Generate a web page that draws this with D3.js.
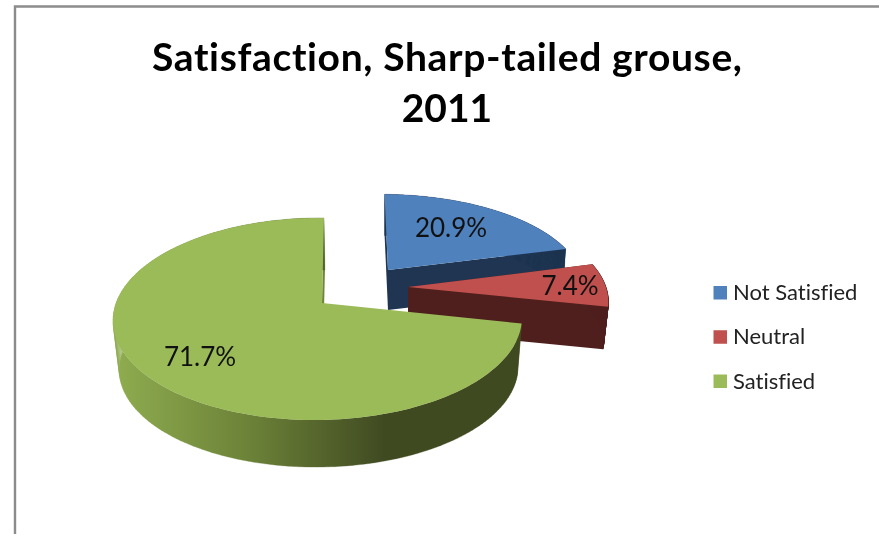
<!DOCTYPE html>
<html><head><meta charset="utf-8">
<script src="https://cdnjs.cloudflare.com/ajax/libs/d3/7.8.5/d3.min.js"></script>
<style>html,body{margin:0;background:#fff}svg{display:block}text{font-family:Lato,"Open Sans",sans-serif;font-variant-ligatures:none}</style>
</head><body><div id="c"></div>
<script>
const categories = ["Not Satisfied", "Neutral", "Satisfied"];
const values = [20.9, 7.4, 71.7];
const labelText = ["20.9%", "7.4%", "71.7%"];
const titleLines = ["Satisfaction, Sharp-tailed grouse,", "2011"];

const W = 879, H = 534;
const colors = ["#4F81BD", "#C0504D", "#9BBB59"];
const sideColors = ["#1F3552", "#4F1F1E", "#404A21"];
// exploded slice placement and per-slice scale
const layout = [
  {ax: 388, ay: 270, sx: .97, sy: .89, shear: 4, depth: 40, ds: .985, ddx: 0},
  {ax: 408, ay: 287, sx: 1, sy: .96, shear: 0, depth: 43, ds: .975, ddx: 0},
  {ax: 322, ay: 303, sx: 1, sy: 1, shear: -2.3, depth: 50, ds: .975, ddx: 1}
];
const A = 201.8, B = 98.5, K = .158, M = .02;

const svg = d3.select("#c").append("svg").attr("width", W).attr("height", H)
  .style("filter", "blur(0.45px)");
svg.append("rect").attr("width", W).attr("height", H).attr("fill", "#fff");
svg.append("path").attr("d", d3.line()([[15, H], [15, 6.5], [W, 6.5]]))
  .attr("fill", "none").attr("stroke", "#8c8c8c").attr("stroke-width", 2.4);

const grad = svg.append("defs").append("linearGradient").attr("id", "greenSide")
  .attr("gradientUnits", "userSpaceOnUse").attr("x1", 113).attr("x2", 385).attr("y1", 0).attr("y2", 0);
grad.append("stop").attr("offset", 0).attr("stop-color", "#8FAD50");
grad.append("stop").attr("offset", .5).attr("stop-color", "#6C8238");
grad.append("stop").attr("offset", 1).attr("stop-color", "#404A21");

const arcs = d3.pie().sort(null).value(d => d)(values);
function proj(i, t, bottom, r = 1) {
  const L = layout[i], X = r * Math.sin(t), Y = -r * Math.cos(t);
  const w = 1 - K * Y + M * X, s = bottom ? L.ds : 1;
  return [L.ax + (bottom ? L.ddx : 0) + s * (L.sx * A * X + L.shear * Y) / w,
          L.ay + (bottom ? L.depth : 0) + s * L.sy * B * Y / w];
}
const line = d3.line();
const steps = (a, b) => d3.range(0, 181).map(k => a + (b - a) * k / 180);

[0, 1, 2].forEach(i => {
  const a = arcs[i], ts = steps(a.startAngle, a.endAngle);
  const g = svg.append("g");
  const side = i === 2 ? "url(#greenSide)" : sideColors[i];
  // cut faces (the green slice's start face looks away from the viewer)
  (i === 2 ? [a.endAngle] : [a.startAngle, a.endAngle]).forEach(t => {
    g.append("path").attr("d", line([proj(i, t, false), proj(i, t, false, 0), proj(i, t, true, 0), proj(i, t, true)]) + "Z")
      .attr("fill", i === 2 ? "#6F8438" : sideColors[i]);
  });
  // outer wall: one quad per arc step, so the silhouette follows the tangent
  const wall = d3.pairs(ts).map(([t0, t1]) =>
    line([proj(i, t0, false), proj(i, t1, false), proj(i, t1, true), proj(i, t0, true)]) + "Z").join("");
  g.append("path").attr("d", wall).attr("fill", side).attr("stroke", side).attr("stroke-width", .3);
  // top face
  g.append("path").attr("d", line([proj(i, 0, false, 0)].concat(ts.map(t => proj(i, t, false)))) + "Z").attr("fill", colors[i]);
});

const labelPos = [[451, 228], [570, 286], [200, 357]];
labelText.forEach((t, i) => svg.append("text").attr("x", labelPos[i][0]).attr("y", labelPos[i][1])
  .attr("dy", "0.35em").attr("text-anchor", "middle").attr("font-size", 26).attr("fill", "#111").text(t));

const titleY = d3.scalePoint().domain(titleLines).range([57, 108]);
titleLines.forEach((t, i) => {
  const el = svg.append("text").attr("x", 447).attr("y", titleY(t)).attr("dy", "0.35em")
    .attr("text-anchor", "middle").attr("font-size", 39).attr("font-weight", 700).attr("fill", "#000").text(t);
  if (i === 0) el.attr("textLength", 590).attr("lengthAdjust", "spacing");
});

const legY = d3.scalePoint().domain(categories).range([292.5, 381]);
categories.forEach((c, i) => {
  svg.append("rect").attr("x", 713.5).attr("y", legY(c) - 6.5).attr("width", 13.5).attr("height", 13.5).attr("fill", colors[i]);
  svg.append("text").attr("x", 733).attr("y", legY(c)).attr("dy", "0.35em").attr("font-size", 22).attr("fill", "#222").text(c);
});
</script></body></html>
